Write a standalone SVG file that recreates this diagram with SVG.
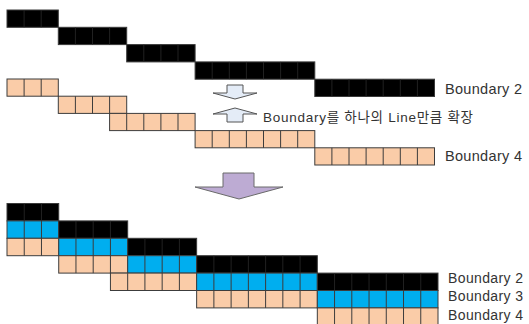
<svg xmlns="http://www.w3.org/2000/svg" width="529" height="324" viewBox="0 0 529 324">
<style>
.bk{fill:#000;stroke:#3a3a3a;stroke-width:1}
.or{fill:#FACCA8;stroke:#3c3c3c;stroke-width:1}
.bl{fill:#00AEEF;stroke:#3c3c3c;stroke-width:1}
.dv{fill:none;stroke:#3c3c3c;stroke-width:1}
.dk{fill:none;stroke:#2a2a2a;stroke-width:0.8}
.sa{fill:#E4ECF7;stroke:#555;stroke-width:1;stroke-linejoin:miter}
.pa{fill:#BDABD3;stroke:#6a6a6a;stroke-width:1}
.lb{font-family:"Liberation Sans","Noto Sans CJK KR",Arial,sans-serif;fill:#333}
</style>
<rect width="529" height="324" fill="#fff"/>

<g id="top-black">
<rect class="bk" x="7" y="10" width="51.3" height="17.3"/>
<rect class="bk" x="58.3" y="27.3" width="68.4" height="17.3"/>
<rect class="bk" x="126.7" y="44.6" width="68.4" height="17.3"/>
<rect class="bk" x="195.1" y="61.9" width="119.7" height="17.3"/>
<rect class="bk" x="314.8" y="79.2" width="119.7" height="17.3"/>
<path class="dk" d="M24.1 10V27.3M41.2 10V27.3M75.4 27.3V44.6M92.5 27.3V44.6M109.6 27.3V44.6M143.8 44.6V61.9M160.9 44.6V61.9M178 44.6V61.9M212.2 61.9V79.2M229.3 61.9V79.2M246.4 61.9V79.2M263.5 61.9V79.2M280.6 61.9V79.2M297.7 61.9V79.2M331.9 79.2V96.5M349 79.2V96.5M366.1 79.2V96.5M383.2 79.2V96.5M400.3 79.2V96.5M417.4 79.2V96.5"/>
</g>

<g id="top-orange">
<rect class="or" x="7" y="79" width="51.3" height="17.2"/>
<rect class="or" x="58.3" y="96.2" width="68.4" height="17.2"/>
<rect class="or" x="109.6" y="113.4" width="85.5" height="17.2"/>
<rect class="or" x="195.1" y="130.6" width="119.7" height="17.2"/>
<rect class="or" x="314.8" y="147.8" width="119.7" height="17.2"/>
<path class="dv" d="M24.1 79V96.2M41.2 79V96.2M75.4 96.2V113.4M92.5 96.2V113.4M109.6 96.2V113.4M126.7 113.4V130.6M143.8 113.4V130.6M160.9 113.4V130.6M178 113.4V130.6M212.2 130.6V147.8M229.3 130.6V147.8M246.4 130.6V147.8M263.5 130.6V147.8M280.6 130.6V147.8M297.7 130.6V147.8M331.9 147.8V165M349 147.8V165M366.1 147.8V165M383.2 147.8V165M400.3 147.8V165M417.4 147.8V165"/>
</g>

<g id="bottom-stack">
<rect class="bk" x="7" y="203.5" width="51.72" height="17.4"/>
<rect class="bl" x="7" y="220.9" width="51.72" height="17.4"/>
<rect class="or" x="7" y="238.3" width="51.72" height="17.4"/>
<rect class="bk" x="58.72" y="220.9" width="68.96" height="17.4"/>
<rect class="bl" x="58.72" y="238.3" width="68.96" height="17.4"/>
<rect class="or" x="58.72" y="255.7" width="68.96" height="17.4"/>
<rect class="bk" x="127.68" y="238.3" width="68.96" height="17.4"/>
<rect class="bl" x="127.68" y="255.7" width="68.96" height="17.4"/>
<rect class="or" x="110.44" y="273.1" width="86.2" height="17.4"/>
<rect class="bk" x="196.64" y="255.7" width="120.68" height="17.4"/>
<rect class="bl" x="196.64" y="273.1" width="120.68" height="17.4"/>
<rect class="or" x="196.64" y="290.5" width="120.68" height="17.4"/>
<rect class="bk" x="317.32" y="273.1" width="120.68" height="17.4"/>
<rect class="bl" x="317.32" y="290.5" width="120.68" height="17.4"/>
<rect class="or" x="317.32" y="307.9" width="120.68" height="17.4"/>
<path class="dk" d="M24.24 203.5V220.9M41.48 203.5V220.9M75.96 220.9V238.3M93.2 220.9V238.3M110.44 220.9V238.3M144.92 238.3V255.7M162.16 238.3V255.7M179.4 238.3V255.7M213.88 255.7V273.1M231.12 255.7V273.1M248.36 255.7V273.1M265.6 255.7V273.1M282.84 255.7V273.1M300.08 255.7V273.1M334.56 273.1V290.5M351.8 273.1V290.5M369.04 273.1V290.5M386.28 273.1V290.5M403.52 273.1V290.5M420.76 273.1V290.5"/>
<path class="dv" d="M24.24 220.9V255.7M41.48 220.9V255.7M75.96 238.3V273.1M93.2 238.3V273.1M110.44 238.3V273.1M127.68 273.1V290.5M144.92 255.7V290.5M162.16 255.7V290.5M179.4 255.7V290.5M213.88 273.1V307.9M231.12 273.1V307.9M248.36 273.1V307.9M265.6 273.1V307.9M282.84 273.1V307.9M300.08 273.1V307.9M334.56 290.5V325M351.8 290.5V325M369.04 290.5V325M386.28 290.5V325M403.52 290.5V325M420.76 290.5V325"/>
</g>

<g id="arrow-down-small">
<path class="sa" d="M227 85H243V93H257L235 99L213 93H227Z"/>
</g>
<g id="arrow-up-small">
<path class="sa" d="M235 108L257 114H243V122H227V114H213Z"/>
</g>
<g id="arrow-big">
<path class="pa" d="M223 173H254V187H283L239 199L195 187H223Z"/>
</g>

<g id="labels">
<text class="lb" x="445" y="93.5" font-size="14.5" textLength="77" lengthAdjust="spacing">Boundary 2</text>
<text class="lb" x="263" y="121.5" font-size="13.5" textLength="210" lengthAdjust="spacing">Boundary를 하나의 Line만큼 확장</text>
<text class="lb" x="445" y="160.5" font-size="14.5" textLength="77" lengthAdjust="spacing">Boundary 4</text>
<text class="lb" x="448" y="282.5" font-size="14" textLength="75" lengthAdjust="spacing">Boundary 2</text>
<text class="lb" x="448" y="301" font-size="14" textLength="75" lengthAdjust="spacing">Boundary 3</text>
<text class="lb" x="448" y="319.5" font-size="14" textLength="75" lengthAdjust="spacing">Boundary 4</text>
</g>
</svg>
